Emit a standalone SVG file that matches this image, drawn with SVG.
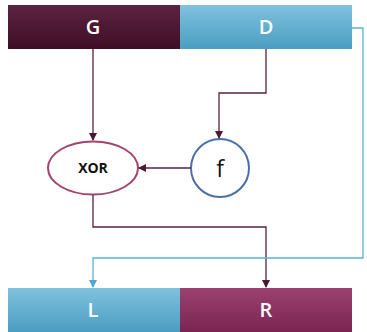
<svg xmlns="http://www.w3.org/2000/svg" width="367" height="332" viewBox="0 0 367 332">
<defs>
<linearGradient id="gMaroon" x1="0" y1="0" x2="0" y2="1"><stop offset="0" stop-color="#5c2341"/><stop offset="1" stop-color="#3f0d26"/></linearGradient>
<linearGradient id="gBlue" x1="0" y1="0" x2="0" y2="1"><stop offset="0" stop-color="#7fc2de"/><stop offset="1" stop-color="#4b9dc2"/></linearGradient>
<linearGradient id="gRose" x1="0" y1="0" x2="0" y2="1"><stop offset="0" stop-color="#9c416f"/><stop offset="1" stop-color="#7b2452"/></linearGradient>
<marker id="aDark" markerWidth="8" markerHeight="8" refX="7" refY="4" orient="auto" markerUnits="userSpaceOnUse"><path d="M0,0 L8,4 L0,8 Z" fill="#4d1631"/></marker>
<marker id="aBlue" markerWidth="8" markerHeight="8" refX="7" refY="4" orient="auto" markerUnits="userSpaceOnUse"><path d="M0,0 L8,4 L0,8 Z" fill="#4fa9cc"/></marker>
<style>
.lbl{font-family:"Open Sans","Liberation Sans",sans-serif;font-size:20px;font-weight:600;fill:#ffffff;text-anchor:middle}
.dark{fill:none;stroke:#5a2040;stroke-width:1.3}
.blue{fill:none;stroke:#5ab2d4;stroke-width:1.3}
</style>
</defs>
<g id="G"><rect x="8" y="5" width="172" height="44" fill="url(#gMaroon)"/><text class="lbl" x="93" y="34">G</text></g>
<g id="D"><rect x="180" y="5" width="172" height="44" fill="url(#gBlue)"/><text class="lbl" x="266" y="34">D</text></g>
<g id="L"><rect x="8" y="288" width="172" height="44" fill="url(#gBlue)"/><text class="lbl" x="93" y="317">L</text></g>
<g id="R"><rect x="180" y="288" width="172" height="44" fill="url(#gRose)"/><text class="lbl" x="266" y="317">R</text></g>
<g id="XOR"><ellipse cx="93" cy="168" rx="45" ry="26.5" fill="#ffffff" stroke="#a3436f" stroke-width="2"/><text x="93" y="173" font-family="Open Sans, Liberation Sans, sans-serif" font-size="14" font-weight="bold" fill="#111" text-anchor="middle">XOR</text></g>
<g id="f"><circle cx="220" cy="168" r="29" fill="#ffffff" stroke="#4a6fa9" stroke-width="2"/><text x="220" y="177" font-family="Open Sans, Liberation Sans, sans-serif" font-size="23" fill="#111" text-anchor="middle">f</text></g>
<g id="connectors">
<path class="dark" d="M93,49 V140" marker-end="url(#aDark)"/>
<path class="dark" d="M266,49 V93 H219 V138" marker-end="url(#aDark)"/>
<path class="dark" d="M191,168 H139" marker-end="url(#aDark)"/>
<path class="dark" d="M93,195 V227 H266 V287" marker-end="url(#aDark)"/>
<path class="blue" d="M352,28 H363 V258 H93 V287" marker-end="url(#aBlue)"/>
</g>
</svg>
